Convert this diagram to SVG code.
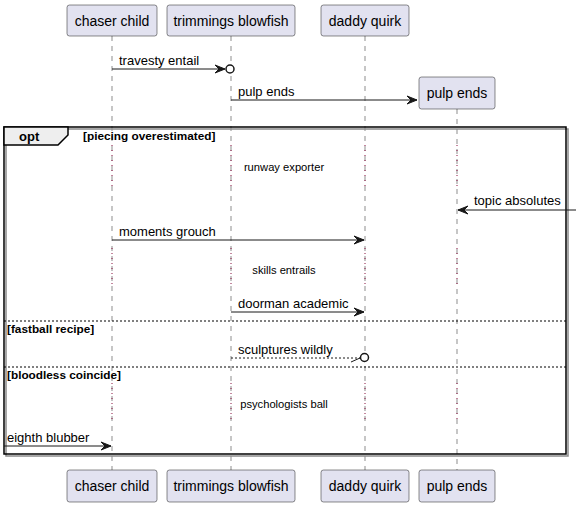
<svg xmlns="http://www.w3.org/2000/svg" width="581" height="507" viewBox="0 0 581 507">
<style>
.pbox{fill:#E2E2F0;stroke:#181818;stroke-width:0.5}
.ptxt{font-family:"Liberation Sans",Arial,sans-serif;font-size:14px;fill:#000;text-anchor:middle}
.life{stroke:#181818;stroke-width:0.5;stroke-dasharray:5,5;fill:none}
.delay{stroke:#8A1040;stroke-width:1;stroke-dasharray:1,4;fill:none}
.msg{stroke:#181818;stroke-width:1;fill:none}
.dmsg{stroke:#181818;stroke-width:1;stroke-dasharray:2,2;fill:none}
.mtxt{font-family:"Liberation Sans",Arial,sans-serif;font-size:13px;fill:#000}
.dtxt{font-family:"Liberation Sans",Arial,sans-serif;font-size:11.2px;fill:#000;text-anchor:middle}
.cond{font-family:"Liberation Sans",Arial,sans-serif;font-size:11.8px;font-weight:bold;fill:#000}
.sep{stroke:#000;stroke-width:1;stroke-dasharray:2,2;fill:none}
.circ{fill:#fff;stroke:#181818;stroke-width:1.5}
</style>
<defs>
<marker id="ah" markerUnits="userSpaceOnUse" markerWidth="11" markerHeight="9" refX="10" refY="4" orient="auto" overflow="visible">
<path d="M0,0 L10,4 L0,8 L4,4 Z" fill="#181818" stroke="#181818" stroke-width="1"/>
</marker>
</defs>
<g id="lifelines">
<line class="life" x1="112" y1="36" x2="112" y2="470"/>
<line class="life" x1="231" y1="36" x2="231" y2="470"/>
<line class="life" x1="365" y1="36" x2="365" y2="470"/>
<line class="life" x1="457" y1="109" x2="457" y2="470"/>
<g id="delays">
<line class="delay" x1="112" y1="145" x2="112" y2="188"/>
<line class="delay" x1="231" y1="145" x2="231" y2="188"/>
<line class="delay" x1="365" y1="145" x2="365" y2="188"/>
<line class="delay" x1="457" y1="145" x2="457" y2="188"/>
<line class="delay" x1="112" y1="248" x2="112" y2="288"/>
<line class="delay" x1="231" y1="248" x2="231" y2="288"/>
<line class="delay" x1="365" y1="248" x2="365" y2="288"/>
<line class="delay" x1="457" y1="248" x2="457" y2="288"/>
<line class="delay" x1="112" y1="383" x2="112" y2="421"/>
<line class="delay" x1="231" y1="383" x2="231" y2="421"/>
<line class="delay" x1="365" y1="383" x2="365" y2="421"/>
<line class="delay" x1="457" y1="383" x2="457" y2="421"/>
</g>
</g>
<g id="frame">
<rect x="6" y="129" width="562" height="327" fill="none" stroke="#8a8a8a" stroke-width="1.5"/>
<rect x="4" y="127" width="562" height="327" fill="none" stroke="#000" stroke-width="1.5"/>
<path d="M4,127 H68 V135 L58,145 H4 Z" fill="#EEEEEE" stroke="#000" stroke-width="1.5"/>
<text x="19" y="141" class="mtxt" font-weight="bold">opt</text>
<text x="83" y="140" class="cond">[piecing overestimated]</text>
<line class="sep" x1="4" y1="321" x2="566" y2="321"/>
<text x="7" y="333" class="cond">[fastball recipe]</text>
<line class="sep" x1="4" y1="367" x2="566" y2="367"/>
<text x="7" y="379" class="cond">[bloodless coincide]</text>
</g>
<g id="connectors">
<line class="msg" x1="112" y1="69" x2="225" y2="69" marker-end="url(#ah)"/>
<circle class="circ" cx="230" cy="69" r="4"/>
<text class="mtxt" x="119" y="65">travesty entail</text>
<line class="msg" x1="231" y1="100" x2="417" y2="100" marker-end="url(#ah)"/>
<text class="mtxt" x="238" y="96">pulp ends</text>
<text class="dtxt" x="284" y="171">runway exporter</text>
<line class="msg" x1="576" y1="210" x2="458" y2="210" marker-end="url(#ah)"/>
<text class="mtxt" x="474" y="205">topic absolutes</text>
<line class="msg" x1="112" y1="240" x2="364" y2="240" marker-end="url(#ah)"/>
<text class="mtxt" x="119" y="236">moments grouch</text>
<text class="dtxt" x="284" y="274">skills entrails</text>
<line class="msg" x1="231" y1="312" x2="364" y2="312" marker-end="url(#ah)"/>
<text class="mtxt" x="238" y="308">doorman academic</text>
<line class="dmsg" x1="231" y1="358" x2="360" y2="358"/>
<line class="msg" x1="351" y1="362" x2="360" y2="358"/>
<circle class="circ" cx="364.5" cy="357.5" r="4"/>
<text class="mtxt" x="238" y="354">sculptures wildly</text>
<text class="dtxt" x="284" y="408">psychologists ball</text>
<line class="msg" x1="4" y1="446" x2="111" y2="446" marker-end="url(#ah)"/>
<text class="mtxt" x="7" y="442">eighth blubber</text>
</g>
<g id="chaser-child">
<rect class="pbox" x="67" y="5" width="90" height="31" rx="2.5"/>
<text class="ptxt" x="112" y="26">chaser child</text>
<rect class="pbox" x="67" y="470" width="90" height="32" rx="2.5"/>
<text class="ptxt" x="112" y="491">chaser child</text>
</g>
<g id="trimmings-blowfish">
<rect class="pbox" x="167" y="5" width="128" height="31" rx="2.5"/>
<text class="ptxt" x="231" y="26">trimmings blowfish</text>
<rect class="pbox" x="167" y="470" width="128" height="32" rx="2.5"/>
<text class="ptxt" x="231" y="491">trimmings blowfish</text>
</g>
<g id="daddy-quirk">
<rect class="pbox" x="321" y="5" width="88" height="31" rx="2.5"/>
<text class="ptxt" x="365" y="26">daddy quirk</text>
<rect class="pbox" x="321" y="470" width="88" height="32" rx="2.5"/>
<text class="ptxt" x="365" y="491">daddy quirk</text>
</g>
<g id="pulp-ends">
<rect class="pbox" x="419" y="77" width="76" height="32" rx="2.5"/>
<text class="ptxt" x="457" y="98">pulp ends</text>
<rect class="pbox" x="419" y="470" width="76" height="32" rx="2.5"/>
<text class="ptxt" x="457" y="491">pulp ends</text>
</g>
</svg>
